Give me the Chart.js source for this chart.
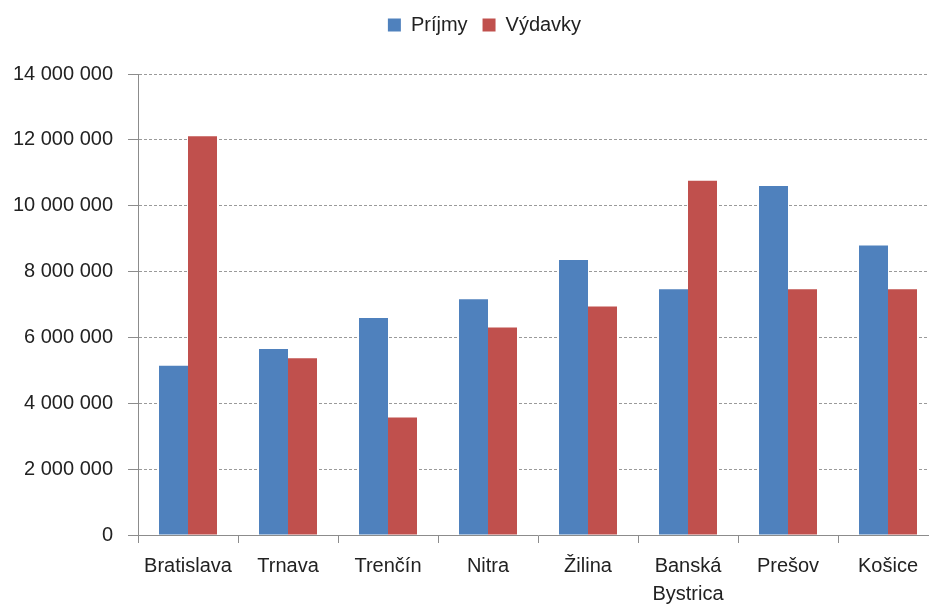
<!DOCTYPE html>
<html>
<head>
<meta charset="utf-8">
<script src="https://cdn.jsdelivr.net/npm/chart.js@4"></script>
<style>
html,body{margin:0;padding:0;background:#fff;overflow:hidden;}
#wrap{width:968px;height:607px;}
</style>
</head>
<body>
<div id="wrap"><canvas id="c" width="968" height="607"></canvas></div>
<script>
const categories = ['Bratislava', 'Trnava', 'Trenčín', 'Nitra', 'Žilina', ['Banská', 'Bystrica'], 'Prešov', 'Košice'];
const seriesNames = ['Príjmy', 'Výdavky'];
const prijmy = [5140000, 5650000, 6590000, 7160000, 8350000, 7460000, 10600000, 8790000];
const vydavky = [12110000, 5370000, 3570000, 6300000, 6940000, 10760000, 7460000, 7460000];
const yMin = 0, yMax = 14000000, yStep = 2000000;

const FONT = 'Liberation Sans, Arial, sans-serif';
const fmt = v => String(v).replace(/\B(?=(\d{3})+(?!\d))/g, ' ');

const legendMargin = {
  id: 'legendMargin',
  beforeInit(chart) {
    const orig = chart.legend.fit;
    chart.legend.fit = function () {
      orig.call(this);
      this.height += 29;
    };
  },
  afterLayout(chart) {
    chart.legend.left += 9;
    chart.legend.right += 9;
  }
};

new Chart(document.getElementById('c'), {
  type: 'bar',
  data: {
    labels: categories,
    datasets: [
      { label: seriesNames[0], data: prijmy, backgroundColor: '#4F81BD', borderWidth: 0 },
      { label: seriesNames[1], data: vydavky, backgroundColor: '#C0504D', borderWidth: 0 }
    ]
  },
  plugins: [legendMargin],
  options: {
    responsive: false,
    animation: false,
    devicePixelRatio: 1,
    layout: { padding: { left: 13, right: 30, top: 0, bottom: 0 } },
    categoryPercentage: 0.58,
    barPercentage: 1.0,
    plugins: {
      tooltip: { enabled: false },
      legend: {
        position: 'top',
        align: 'center',
        labels: {
          boxWidth: 13, boxHeight: 13, padding: 15,
          color: '#222',
          font: { family: FONT, size: 20 }
        }
      }
    },
    scales: {
      x: {
        offset: true,
        afterFit: s => { s.height = 72; },
        grid: {
          offset: true, drawOnChartArea: false, drawTicks: true, tickLength: 8,
          tickColor: '#8c8c8c', color: '#8c8c8c'
        },
        border: { display: true, color: '#8c8c8c', width: 1 },
        ticks: {
          color: '#222', padding: 9, maxRotation: 0, autoSkip: false,
          font: { family: FONT, size: 20, lineHeight: 1.4 }
        }
      },
      y: {
        min: yMin, max: yMax,
        afterFit: s => { s.width = 125; },
        grid: {
          color: '#9a9a9a', lineWidth: 1, tickLength: 10,
          tickColor: '#8c8c8c', tickBorderDash: [], tickWidth: 1
        },
        border: { display: true, color: '#8c8c8c', width: 1, dash: [3, 2] },
        ticks: {
          stepSize: yStep, color: '#222', padding: 15,
          font: { family: FONT, size: 20 },
          callback: v => fmt(v)
        }
      }
    }
  }
});
</script>
</body>
</html>
